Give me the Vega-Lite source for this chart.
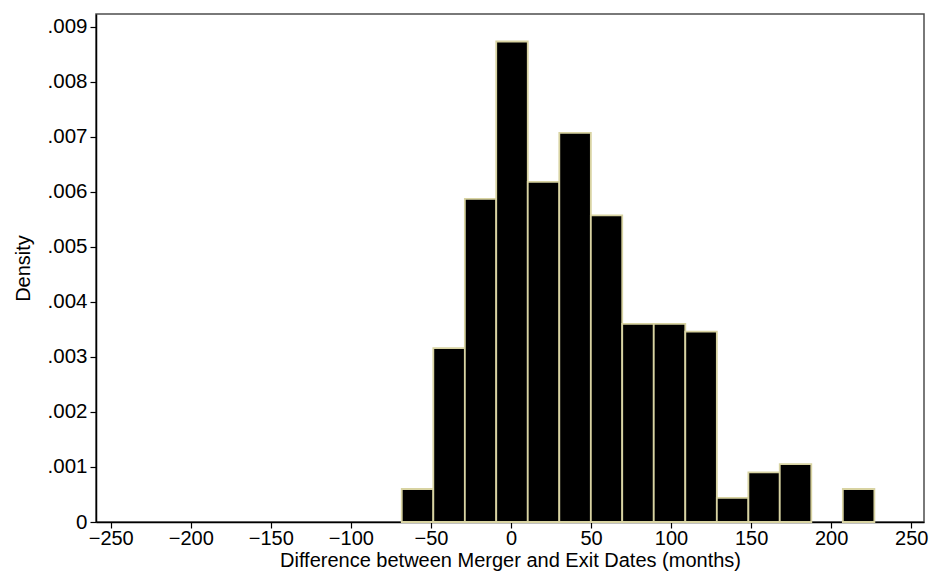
{
  "$schema": "https://vega.github.io/schema/vega-lite/v6.json",
  "autosize": {"type": "none"},
  "padding": {"left": 96, "top": 14, "right": 7, "bottom": 55},
  "width": 828,
  "height": 508,
  "background": "white",
  "config": {
    "view": {"stroke": "#4d4d4d", "strokeWidth": 1.5},
    "font": "Liberation Sans"
  },
  "data": {
    "values": [
      {"bin_start": -68.2, "bin_end": -48.5, "density": 0.0006},
      {"bin_start": -48.5, "bin_end": -28.8, "density": 0.00316},
      {"bin_start": -28.8, "bin_end": -9.2, "density": 0.00587},
      {"bin_start": -9.2, "bin_end": 10.5, "density": 0.00873},
      {"bin_start": 10.5, "bin_end": 30.2, "density": 0.00618},
      {"bin_start": 30.2, "bin_end": 49.9, "density": 0.00707},
      {"bin_start": 49.9, "bin_end": 69.5, "density": 0.00557},
      {"bin_start": 69.5, "bin_end": 89.2, "density": 0.0036},
      {"bin_start": 89.2, "bin_end": 108.9, "density": 0.0036},
      {"bin_start": 108.9, "bin_end": 128.6, "density": 0.00346},
      {"bin_start": 128.6, "bin_end": 148.3, "density": 0.00044},
      {"bin_start": 148.3, "bin_end": 167.9, "density": 0.0009},
      {"bin_start": 167.9, "bin_end": 187.6, "density": 0.00105},
      {"bin_start": 207.3, "bin_end": 227.0, "density": 0.0006}
    ]
  },
  "mark": {"type": "rect", "fill": "black", "stroke": "#d8d3a2", "strokeWidth": 1.8},
  "encoding": {
    "x": {
      "field": "bin_start",
      "type": "quantitative",
      "scale": {"domain": [-259.2, 258], "nice": false, "zero": false},
      "axis": {
        "title": "Difference between Merger and Exit Dates (months)",
        "values": [-250, -200, -150, -100, -50, 0, 50, 100, 150, 200, 250],
        "grid": false,
        "domainColor": "black",
        "domainWidth": 1.5,
        "tickColor": "black",
        "tickSize": 6,
        "tickWidth": 1.2,
        "labelFontSize": 20,
        "labelColor": "black",
        "labelPadding": 0,
        "labelFlush": false,
        "titleFontSize": 20,
        "titleFontWeight": "normal",
        "titleColor": "black",
        "titlePadding": 2
      }
    },
    "x2": {"field": "bin_end"},
    "y": {
      "field": "density",
      "type": "quantitative",
      "scale": {"domain": [0, 0.00923], "nice": false},
      "axis": {
        "title": "Density",
        "values": [0, 0.001, 0.002, 0.003, 0.004, 0.005, 0.006, 0.007, 0.008, 0.009],
        "labelExpr": "datum.value == 0 ? '0' : substring(format(datum.value, '.3f'), 1)",
        "grid": false,
        "domainColor": "black",
        "domainWidth": 1.5,
        "tickColor": "black",
        "tickSize": 6,
        "tickWidth": 1.2,
        "labelFontSize": 20.5,
        "labelColor": "black",
        "labelPadding": 3,
        "labelFlush": false,
        "titleFontSize": 20,
        "titleFontWeight": "normal",
        "titleColor": "black",
        "titlePadding": 14
      }
    },
    "y2": {"datum": 0}
  }
}
